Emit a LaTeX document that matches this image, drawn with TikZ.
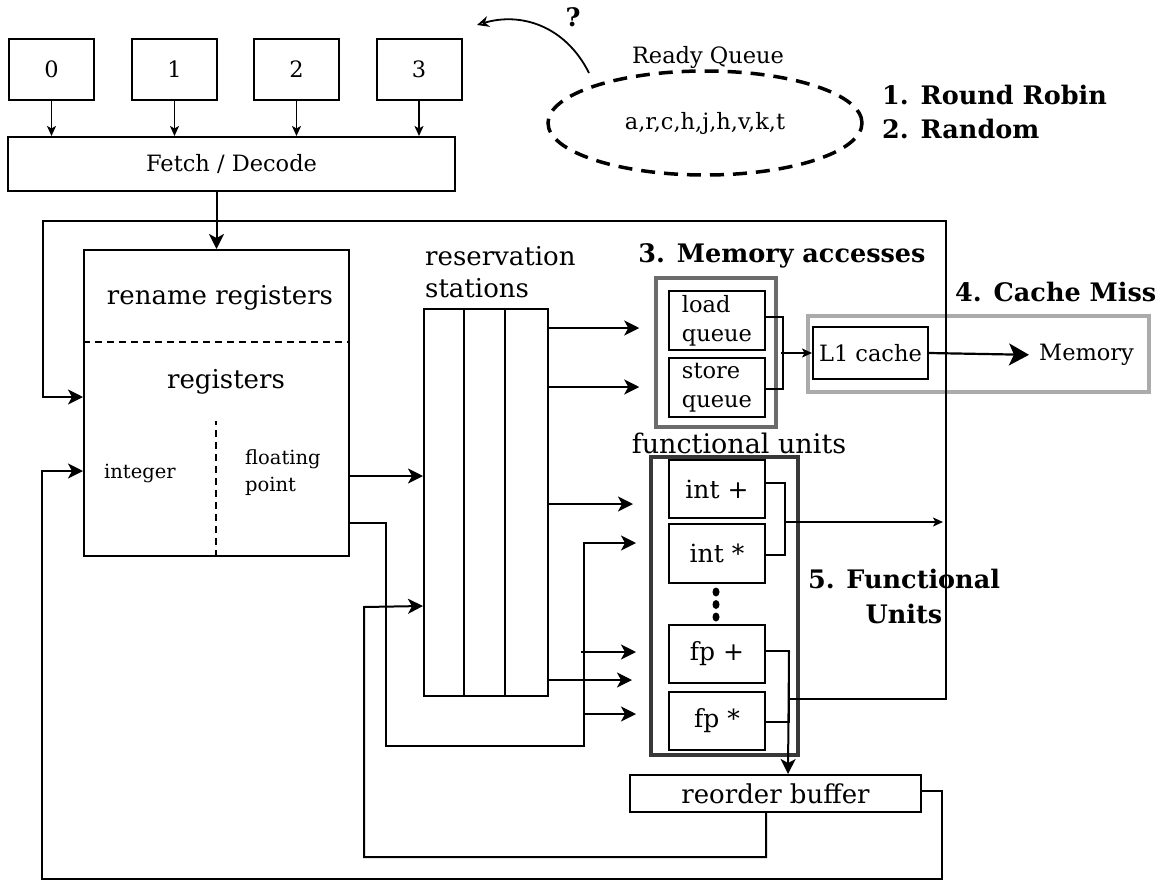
\documentclass[tikz,border=0pt]{standalone}
\usepackage{fontspec}
\setmainfont{DejaVu Serif}
\usetikzlibrary{arrows.meta,shapes.geometric,calc}
\begin{document}
\begin{tikzpicture}[x=1pt,y=-1pt,
  box/.style={draw,line width=2pt,rectangle,inner sep=0pt},
  ln/.style={line width=2pt},
  arr/.style={line width=2pt,-{Stealth[length=15pt,width=15pt,inset=4pt]}},
  sarr/.style={line width=1.6pt,-{Stealth[length=10pt,width=9pt,inset=2.5pt]}},
  bigarr/.style={line width=2.2pt,-{Stealth[length=20pt,width=22pt,inset=5pt]}},
  bigtxt/.style={inner sep=0pt,font=\fontsize{26}{32}\selectfont},
  futxt/.style={inner sep=0pt,font=\fontsize{25}{30}\selectfont},
  midtxt/.style={inner sep=0pt,font=\fontsize{22.5}{29}\selectfont},
  smtxt/.style={inner sep=0pt,font=\fontsize{19.5}{27}\selectfont},
  boldtxt/.style={inner sep=0pt,font=\fontsize{25.5}{35}\selectfont\bfseries},
]
\fill[white] (0,0) rectangle (1165,881);
\useasboundingbox (0,0) rectangle (1165,881);

% thread boxes and fetch
\node[box,midtxt,minimum width=85pt,minimum height=61pt] (b0) at (51.5,69.5) {0};
\node[box,midtxt,minimum width=85pt,minimum height=61pt] (b1) at (174.5,69.5) {1};
\node[box,midtxt,minimum width=85pt,minimum height=61pt] (b2) at (296.5,69.5) {2};
\node[box,midtxt,minimum width=85pt,minimum height=61pt] (b3) at (419,69.5) {3};
\node[box,midtxt,minimum width=447pt,minimum height=54pt] (fetch) at (231.5,164) {Fetch / Decode};
\foreach \b in {b0,b1,b2,b3}{\draw[sarr] (\b.south) -- (\b.south |- fetch.north);}

% ready queue
\node[ellipse,draw,line width=3.5pt,dash pattern=on 14pt off 9pt,minimum width=314pt,minimum height=104pt,midtxt] (ready) at (705,123) {a,r,c,h,j,h,v,k,t};
\node[midtxt] (rqlabel) at (708,57) {Ready Queue};
\coordinate (qstart) at (589,73);
\coordinate (qend) at (477,25);
\draw[line width=1.8pt,-{Stealth[open,length=12pt,width=11pt]}] (qstart) .. controls (565,25) and (520,12) .. (qend);
\node[boldtxt] (qmark) at (573,17) {?};
\node[boldtxt,anchor=west] (rr) at (882,95) {1. Round Robin};
\node[boldtxt,anchor=west] (rnd) at (882,129) {2. Random};

% rename / registers
\node[box,minimum width=265pt,minimum height=306pt] (ren) at (216.5,403) {};
\draw[ln,dash pattern=on 7pt off 5pt] ($(ren.north west)+(0,93)$) -- ($(ren.north east)+(0,93)$);
\draw[ln,dash pattern=on 7pt off 5pt] ($(ren.south west)+(133,0)$) -- ($(ren.south west)+(133,-136)$);
\node[bigtxt] (rentxt) at (220,298) {rename registers};
\node[bigtxt] (regtxt) at (226,382) {registers};
\node[smtxt,anchor=west] (inttxt) at (104,473) {integer};
\node[smtxt,anchor=west,align=left] (fptxt) at (245,473) {floating\\point};

% reservation stations
\node[box,minimum width=124pt,minimum height=387pt] (rs) at (486,502.5) {};
\draw[ln] ($(rs.north west)+(41,0)$) -- ($(rs.south west)+(41,0)$);
\draw[ln] ($(rs.north west)+(82,0)$) -- ($(rs.south west)+(82,0)$);
\node[bigtxt,anchor=west,align=left] (rstxt) at (425,272) {reservation\\stations};

% cache miss group
\node[draw=black!33,line width=4pt,minimum width=341pt,minimum height=76pt] (cmb) at (978.5,354) {};
\node[boldtxt,anchor=west] (cmt) at (955,292) {4. Cache Miss};
\node[box,midtxt,minimum width=115pt,minimum height=52pt] (l1) at (870.5,353) {L1 cache};
\node[midtxt,anchor=west] (memtxt) at (1039,355) {Memory};

% memory accesses group
\node[draw=black!58,line width=3.5pt,minimum width=120pt,minimum height=149pt] (memb) at (716,352.5) {};
\node[box,midtxt,align=left,minimum width=96pt,minimum height=59pt] (lq) at (717,320.5) {load\\queue};
\node[box,midtxt,align=left,minimum width=96pt,minimum height=59pt] (sq) at (717,387.5) {store\\queue};
\node[boldtxt] (mat) at (782,256) {3. Memory accesses};

% functional units group
\node[inner sep=0pt,font=\fontsize{27}{32}\selectfont] (fut) at (739,443) {functional units};
\node[draw=black!78,line width=4pt,minimum width=147pt,minimum height=298pt] (fu) at (724.5,606) {};
\node[box,futxt,minimum width=96pt,minimum height=58pt] (ip) at (717,489) {int +};
\node[box,futxt,minimum width=96pt,minimum height=59pt] (im) at (717,553.5) {int *};
\node[box,futxt,minimum width=96pt,minimum height=58pt] (fpp) at (717,654) {fp +};
\node[box,futxt,minimum width=96pt,minimum height=58pt] (fpm) at (717,721) {fp *};
\fill (716,592) ellipse (3.5 and 4.5);
\fill (716,604.5) ellipse (3.5 and 4.5);
\fill (716,617) ellipse (3.5 and 4.5);
\node[boldtxt,align=center] (fut5) at (904,596) {5. Functional\\Units};

% reorder buffer
\node[box,bigtxt,minimum width=291pt,minimum height=37pt] (rob) at (775.5,793.5) {reorder buffer};

% loop coordinates
\coordinate (ltop) at (946,221);
\coordinate (lbot) at (946,699);
\coordinate (intout) at (943,522);

% connectors
\draw[arr] (fetch.south -| ren.north) -- (ren.north);
\draw[arr] ($(ren.east)+(0,73)$) -- ($(rs.west)+(0,-26.5)$);
\draw[arr] ($(ren.east)+(0,120)$) -- ++(36,0) -- ++(0,223) -- ++(198,0) -- ++(0,-203) -- ($(fu.west)+(-13,-63)$);
\draw[arr] ($(fu.west)+(-68,46)$) -- ($(fu.west)+(-13,46)$);
\draw[arr] ($(fu.west)+(-66,108)$) -- ($(fu.west)+(-13,108)$);

\draw[arr] ($(rs.east)+(0,-174.5)$) -- ($(memb.west)+(-15,-24.5)$);
\draw[arr] ($(rs.east)+(0,-115.5)$) -- ($(memb.west)+(-15,34.5)$);
\draw[arr] ($(rs.east)+(0,1.5)$) -- ($(fu.west)+(-16,-102)$);
\draw[arr] ($(rs.east)+(0,177.5)$) -- ($(fu.west)+(-17,74)$);

\draw[ln] ($(lq.east)+(0,-3.5)$) -- ++(17,0) -- ++(0,72) -- ($(sq.east)+(0,1.5)$);
\draw[sarr] ($(l1.west)+(-31,0)$) -- (l1.west);
\draw[bigarr,shorten >=10pt] (l1.east) -- (memtxt.west);

\draw[ln] ($(ip.east)+(0,-6)$) -- ++(19,0) -- ++(0,72) -- ($(im.east)+(0,1.5)$);
\draw[sarr] ($(ip.east)+(19,33)$) -- (intout);

\draw[ln] ($(fpp.east)+(0,-3)$) -- ++(23,0) -- ++(0,71) -- ($(fpm.east)+(0,1)$);
\draw[arr] ($(fpp.east)+(23,-3)$) -- ($(rob.north)+(12.5,0)$);
\draw[arr] ($(fpp.east)+(23,45)$) -- (lbot) -- (ltop) -- ++(-903,0) -- ++(0,176) -- ($(ren.west)+(0,-6)$);

\draw[arr] ($(rob.east)+(0,-2.5)$) -- ++(20,0) -- ++(0,88) -- ++(-900,0) -- ++(0,-408) -- ($(ren.west)+(0,68)$);
\draw[arr] ($(rob.south)+(-9.5,0)$) -- ++(0,44) -- ++(-402,0) -- ++(0,-250) -- ($(rs.west)+(0,103.5)$);
\end{tikzpicture}
\end{document}
